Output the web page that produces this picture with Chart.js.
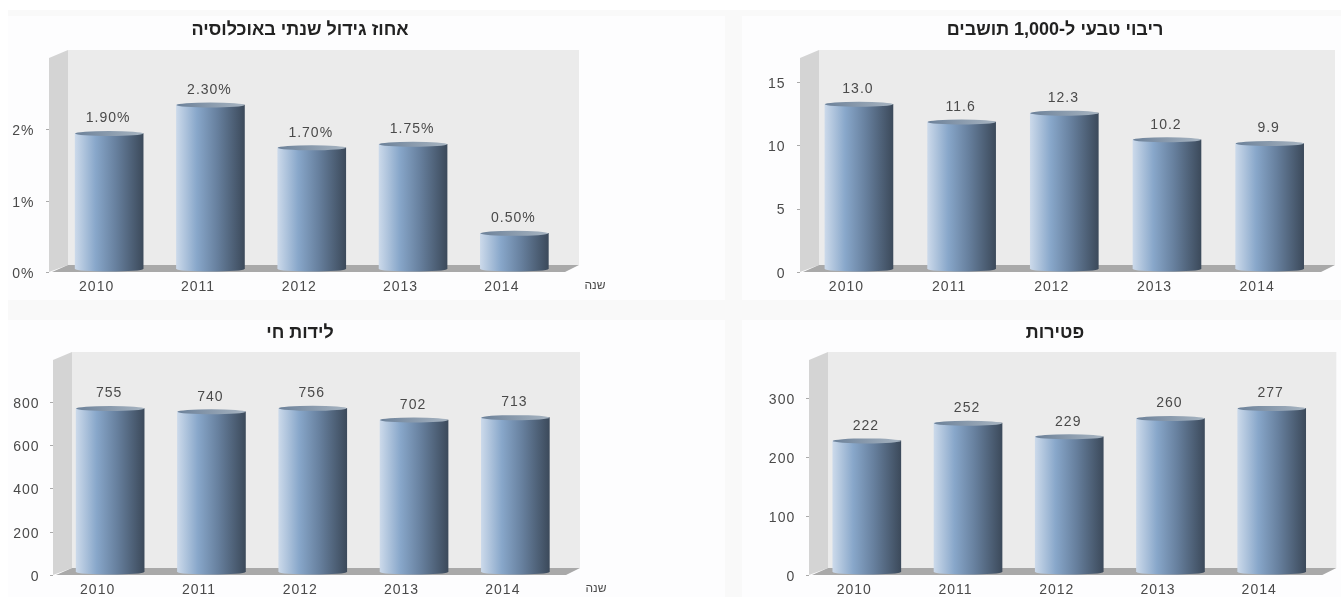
<!DOCTYPE html>
<html lang="he">
<head>
<meta charset="utf-8">
<title>נתוני אוכלוסיה</title>
<script src="https://cdn.jsdelivr.net/npm/chart.js@4"></script>
<style>
    html, body { margin: 0; padding: 0; background: #fff; overflow: hidden; }
    #page { position: relative; width: 1341px; height: 597px; }
    #band { position: absolute; left: 8px; top: 10px; right: 0; bottom: 0; background: #f9f9f9; }
    .panel { position: absolute; background: #fdfdfe; }
    canvas { position: absolute; left: 0; top: 0; }
</style>
</head>
<body>
<div id="page">
    <div id="band"></div>
    <div class="panel" style="left:8px;top:16px;width:717px;height:284px"></div>
    <div class="panel" style="left:742px;top:16px;width:599px;height:284px"></div>
    <div class="panel" style="left:8px;top:320px;width:717px;height:277px"></div>
    <div class="panel" style="left:742px;top:320px;width:599px;height:277px"></div>
    <canvas id="growth" dir="rtl" width="725" height="284" style="top:16px"></canvas>
    <canvas id="natural" dir="rtl" width="599" height="284" style="left:742px;top:16px"></canvas>
    <canvas id="births" dir="rtl" width="725" height="277" style="top:320px"></canvas>
    <canvas id="deaths" dir="rtl" width="599" height="277" style="left:742px;top:320px"></canvas>
</div>

<script>
// Data
const years = ['2010', '2011', '2012', '2013', '2014'];
const growthPct = [1.90, 2.30, 1.70, 1.75, 0.50];
const naturalIncrease = [13.0, 11.6, 12.3, 10.2, 9.9];
const liveBirths = [755, 740, 756, 702, 713];
const deathCounts = [222, 252, 229, 260, 277];
const xAxisName = 'שנה';

const TEXT = '#4a4a4a';
const FONT = 'Liberation Sans, Arial, sans-serif';
const BAR_WIDTH = 68;
const X_AXIS_HEIGHT = 24;

function barGradient(ctx, x) {
    const g = ctx.createLinearGradient(x - BAR_WIDTH / 2, 0, x + BAR_WIDTH / 2, 0);
    g.addColorStop(0, '#cbd9ea');
    g.addColorStop(0.3, '#88a7ca');
    g.addColorStop(0.6, '#67809e');
    g.addColorStop(1, '#3c4a5b');
    return g;
}

// 3D box behind the bars, caps on top of them, value labels
const cylinderPlugin = {
    id: 'cylinder',
    beforeDraw(chart) {
        chart.ctx.letterSpacing = '1px';
    },
    beforeDatasetsDraw(chart, args, opts) {
        const { ctx, chartArea: a } = chart;
        const w = opts.wallX, backX = w + 19, backRight = a.right + 14;
        const top = opts.wallTop, floorFront = a.bottom + 3, floorBack = a.bottom - 4;
        ctx.save();
        ctx.fillStyle = '#ebebeb';
        ctx.fillRect(backX, top - 8, backRight - backX, floorBack - top + 8);
        ctx.fillStyle = '#d4d4d4';
        ctx.beginPath();
        ctx.moveTo(w, top);
        ctx.lineTo(backX, top - 8);
        ctx.lineTo(backX, floorBack);
        ctx.lineTo(w, floorFront);
        ctx.closePath();
        ctx.fill();
        ctx.fillStyle = '#a9a9a9';
        ctx.beginPath();
        ctx.moveTo(w + 3, floorFront);
        ctx.lineTo(backX, floorBack);
        ctx.lineTo(backRight, floorBack);
        ctx.lineTo(a.right, floorFront);
        ctx.closePath();
        ctx.fill();
        // tick marks on the wall edge
        ctx.strokeStyle = '#aaa';
        chart.scales.y.ticks.forEach(t => {
            if (t.label === '') return;
            const y = Math.round(chart.scales.y.getPixelForValue(t.value) + 3) + 0.5;
            ctx.beginPath();
            ctx.moveTo(w - 3, y);
            ctx.lineTo(w, y);
            ctx.stroke();
        });
        ctx.restore();
    },
    afterDatasetsDraw(chart, args, opts) {
        const { ctx, chartArea: a } = chart;
        const values = chart.data.datasets[0].data;
        chart.getDatasetMeta(0).data.forEach((bar, i) => {
            ctx.save();
            // rounded bottom
            ctx.fillStyle = barGradient(ctx, bar.x);
            ctx.beginPath();
            ctx.ellipse(bar.x, bar.base, BAR_WIDTH / 2, 2.5, 0, 0, Math.PI * 2);
            ctx.fill();
            // top cap
            const cap = ctx.createLinearGradient(bar.x - BAR_WIDTH / 2, 0, bar.x + BAR_WIDTH / 2, 0);
            cap.addColorStop(0, '#6c8199');
            cap.addColorStop(1, '#a7b4c1');
            ctx.fillStyle = cap;
            ctx.beginPath();
            ctx.ellipse(bar.x, bar.y, BAR_WIDTH / 2, 2.5, 0, 0, Math.PI * 2);
            ctx.fill();
            // value label
            ctx.fillStyle = TEXT;
            ctx.font = '14px ' + FONT;
            ctx.textAlign = 'center';
            ctx.textBaseline = 'middle';
            ctx.direction = 'ltr';
            ctx.fillText(opts.format(values[i]), bar.x - 1, bar.y - 15);
            ctx.restore();
        });
        // x axis name, beside the tick labels
        ctx.save();
        ctx.fillStyle = TEXT;
        ctx.letterSpacing = '0px';
        ctx.font = '12px ' + FONT;
        ctx.textAlign = 'center';
        ctx.textBaseline = 'middle';
        ctx.fillText(xAxisName, a.right + 30, a.bottom + 17);
        ctx.restore();
    },
    afterLayout(chart, args, opts) {
        // title is centred on its own spot, not on the canvas
        const block = chart.titleBlock;
        block.left = opts.titleX - 300;
        block.right = opts.titleX + 300;
        if (!block.spacingFixed) {
            const draw = block.draw;
            block.draw = function () {
                chart.ctx.letterSpacing = '0px';
                draw.call(block);
                chart.ctx.letterSpacing = '1px';
            };
            block.spacingFixed = true;
        }
    }
};
Chart.register(cylinderPlugin);

function makeChart(id, cfg) {
    const canvas = document.getElementById(id);
    new Chart(canvas, {
        type: 'bar',
        data: {
            labels: years,
            datasets: [{
                data: cfg.values,
                barThickness: BAR_WIDTH,
                borderWidth: 0,
                backgroundColor: c => {
                    const x = c.chart.scales.x ? c.chart.scales.x.getPixelForValue(c.dataIndex) : NaN;
                    return Number.isFinite(x) ? barGradient(c.chart.ctx, x) : '#88a7ca';
                }
            }]
        },
        options: {
            responsive: false,
            animation: false,
            layout: { padding: { right: canvas.width - cfg.right, bottom: canvas.height - cfg.bottom - X_AXIS_HEIGHT } },
            scales: {
                x: {
                    grid: { display: false },
                    border: { display: false },
                    afterFit: s => { s.height = X_AXIS_HEIGHT; },
                    ticks: {
                        color: TEXT,
                        labelOffset: -12.5,
                        padding: 2,
                        maxRotation: 0,
                        autoSkip: false,
                        font: { family: FONT, size: 14 }
                    }
                },
                y: {
                    min: 0,
                    max: cfg.max,
                    grid: { display: false },
                    border: { display: false },
                    afterFit: s => { s.width = cfg.left; },
                    ticks: {
                        color: TEXT,
                        stepSize: cfg.step,
                        includeBounds: false,
                        labelOffset: 5,
                        padding: cfg.tickPad,
                        font: { family: FONT, size: 14 },
                        callback: cfg.tick
                    }
                }
            },
            plugins: {
                legend: { display: false },
                tooltip: { enabled: false },
                title: {
                    display: true,
                    text: cfg.title,
                    color: '#222',
                    font: { family: FONT, size: 18, weight: 'bold', lineHeight: 1.2 },
                    padding: { top: cfg.titleTop, bottom: cfg.titleBottom }
                },
                cylinder: { wallX: cfg.wallX, wallTop: cfg.wallTop, titleX: cfg.titleX, format: cfg.format }
            }
        }
    });
}

makeChart('growth', {
    title: 'אחוז גידול שנתי באוכלוסיה', values: growthPct,
    left: 58.5, right: 565, bottom: 253, wallX: 49, wallTop: 42, titleX: 300,
    titleTop: 3.2, titleBottom: 17.2, tickPad: 16,
    max: 2.96, step: 1, tick: v => v + '%', format: v => v.toFixed(2) + '%'
});
makeChart('natural', {
    title: 'ריבוי טבעי ל-1,000 תושבים', values: naturalIncrease,
    left: 65.6, right: 579, bottom: 253, wallX: 58, wallTop: 42, titleX: 313,
    titleTop: 3.2, titleBottom: 17.2, tickPad: 14,
    max: 16.65, step: 5, tick: v => v, format: v => v.toFixed(1)
});
makeChart('births', {
    title: 'לידות חי', values: liveBirths,
    left: 59.5, right: 566, bottom: 252, wallX: 53, wallTop: 40, titleX: 300,
    titleTop: 2.2, titleBottom: 11.7, tickPad: 12,
    max: 1000, step: 200, tick: v => (v <= 800 ? v : ''), format: v => String(v)
});
makeChart('deaths', {
    title: 'פטירות', values: deathCounts,
    left: 74.2, right: 580.3, bottom: 252, wallX: 67, wallTop: 40, titleX: 313,
    titleTop: 2.2, titleBottom: 16.2, tickPad: 13,
    max: 359, step: 100, tick: v => v, format: v => String(v)
});
</script>
</body>
</html>
